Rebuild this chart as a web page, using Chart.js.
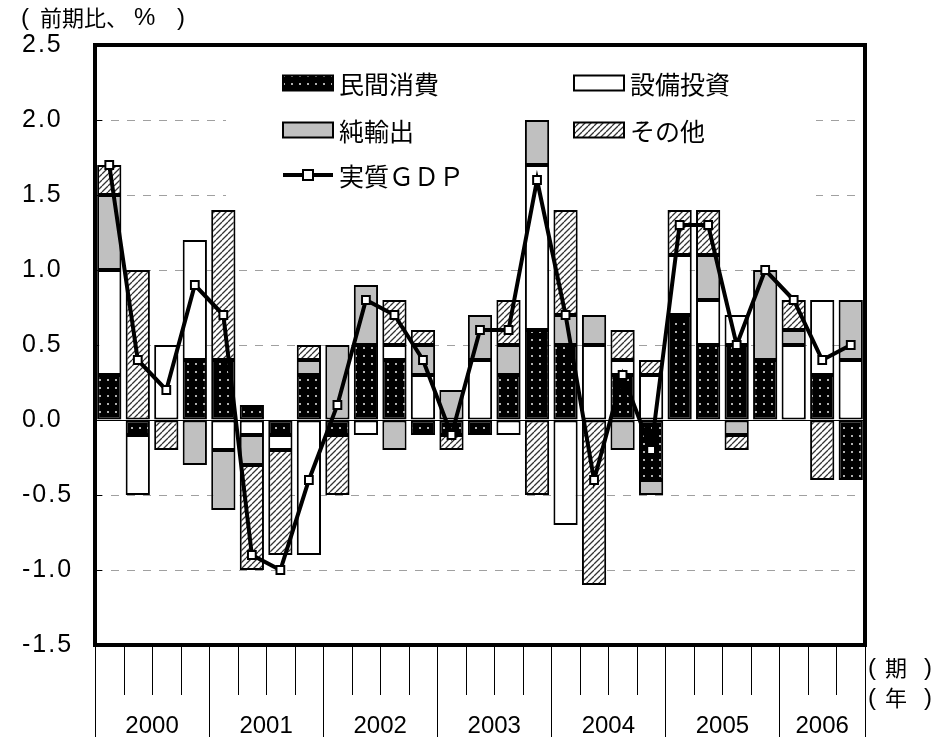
<!DOCTYPE html>
<html>
<head>
<meta charset="utf-8">
<script src="https://cdn.jsdelivr.net/npm/chart.js@4.4.1/dist/chart.umd.min.js"></script>
<style>
  body { margin: 0; background: #fff; }
  canvas { display: block; }
</style>
</head>
<body>
<canvas id="gdpChart" width="948" height="737"></canvas>
<script>
// 年と各年の四半期数
var years = ['2000', '2001', '2002', '2003', '2004', '2005', '2006']
var quartersPerYear = [4, 4, 4, 4, 4, 4, 3]

// 寄与度（前期比、%）
var consumption = [0.3, -0.1, 0, 0.4, 0.4, 0.1, -0.1, 0.3, -0.1, 0.5, 0.4, -0.1, -0.1, -0.1, 0.3, 0.6, 0.5, 0, 0.3, -0.4, 0.7, 0.5, 0.5, 0.4, 0, 0.3, -0.4]
var investment = [0.7, -0.4, 0.5, 0.8, -0.2, -0.1, -0.1, -0.9, 0, -0.1, 0.1, 0.3, 0, 0.4, -0.1, 1.1, -0.7, 0.5, 0.1, 0.3, 0.4, 0.3, 0.2, 0, 0.5, 0.5, 0.4]
var netExports = [0.5, 0, 0, -0.3, -0.4, -0.2, 0, 0.1, 0.5, 0.4, -0.2, 0.2, 0.2, 0.3, 0.2, 0.3, 0.2, 0.2, -0.2, -0.1, 0, 0.3, -0.1, 0.6, 0.1, 0, 0.4]
var others = [0.2, 1.0, -0.2, 0, 1.0, -0.7, -0.7, 0.1, -0.4, 0, 0.3, 0.1, -0.1, 0, 0.3, -0.5, 0.7, -1.1, 0.2, 0.1, 0.3, 0.3, -0.1, 0, 0.2, -0.4, 0]
var realGdp = [1.7, 0.4, 0.2, 0.9, 0.7, -0.9, -1.0, -0.4, 0.1, 0.8, 0.7, 0.4, -0.1, 0.6, 0.6, 1.6, 0.7, -0.4, 0.3, -0.2, 1.3, 1.3, 0.5, 1.0, 0.8, 0.4, 0.5]

// 縦軸
var yMin = -1.5
var yMax = 2.5
var yStep = 0.5

var quarters = []
years.forEach(function (y, i) {
    for (let q = 1; q <= quartersPerYear[i]; q++) quarters.push(y + 'Q' + q)
})

var latin = "'Liberation Sans', Arial, sans-serif"
var cjk = "'Noto Sans CJK JP', sans-serif"

// 塗りパターン
function dotPattern() {
    var c = document.createElement('canvas')
    c.width = 8; c.height = 8
    var g = c.getContext('2d')
    g.fillStyle = '#000'
    g.fillRect(0, 0, 8, 8)
    g.fillStyle = '#b0b0b0'
    g.fillRect(3, 3, 2, 2)
    return g.createPattern(c, 'repeat')
}

function hatchPattern() {
    var s = 6
    var c = document.createElement('canvas')
    c.width = s; c.height = s
    var g = c.getContext('2d')
    g.fillStyle = '#fff'
    g.fillRect(0, 0, s, s)
    g.strokeStyle = '#333'
    g.lineWidth = 1.3
    g.beginPath()
    for (let o = -s; o <= s; o += s) {
        g.moveTo(o, s)
        g.lineTo(o + s, 0)
    }
    g.stroke()
    return g.createPattern(c, 'repeat')
}

function nz(arr) {
    return arr.map(function (v) { return v === 0 ? null : v })
}

function barSet(label, data, fill) {
    return {
        label: label,
        data: nz(data),
        backgroundColor: fill,
        order: 1
    }
}

// 凡例・枠・横軸の描画
var decorations = {
    id: 'decorations',
    beforeDraw: function (chart) {
        chart.ctx.letterSpacing = '2px'
    },
    beforeDatasetsDraw: function (chart) {
        var ctx = chart.ctx
        var area = chart.chartArea
        var y = chart.scales.y
        ctx.letterSpacing = '0px'
        ctx.save()

        // ゼロ線と内向き目盛り
        var y0 = Math.round(y.getPixelForValue(0)) + 0.5
        ctx.strokeStyle = '#000'
        ctx.lineWidth = 1
        ctx.beginPath()
        ctx.moveTo(area.left, y0)
        ctx.lineTo(area.right, y0)
        ctx.stroke()
        y.ticks.forEach(function (t) {
            var py = Math.round(y.getPixelForValue(t.value)) + 0.5
            ctx.beginPath()
            ctx.moveTo(area.left, py)
            ctx.lineTo(area.left + 7, py)
            ctx.stroke()
        })

        // 凡例
        ctx.fillStyle = '#fff'
        ctx.fillRect(226, 47, 590, 158)
        var ds = chart.data.datasets
        var items = [
            [ds[1], 283, 83], [ds[2], 574, 83],
            [ds[3], 283, 130], [ds[4], 574, 130]
        ]
        ctx.font = '25px ' + cjk
        ctx.textBaseline = 'middle'
        ctx.textAlign = 'left'
        items.forEach(function (it) {
            ctx.fillStyle = it[0].backgroundColor
            ctx.fillRect(it[1], it[2] - 7.5, 50, 15)
            ctx.strokeStyle = '#000'
            ctx.lineWidth = 2
            ctx.strokeRect(it[1], it[2] - 7.5, 50, 15)
            ctx.fillStyle = '#000'
            ctx.fillText(it[0].label, it[1] + 56, it[2] + 1)
        })
        var ly = 175
        ctx.lineWidth = 4
        ctx.beginPath()
        ctx.moveTo(283, ly)
        ctx.lineTo(333, ly)
        ctx.stroke()
        ctx.fillStyle = '#fff'
        ctx.lineWidth = 2
        ctx.fillRect(303, ly - 5, 10, 10)
        ctx.strokeRect(303, ly - 5, 10, 10)
        ctx.fillStyle = '#000'
        ctx.fillText(ds[0].label, 339, ly + 1)
        ctx.restore()
    },
    afterDatasetsDraw: function (chart) {
        var ctx = chart.ctx
        var area = chart.chartArea
        var x = chart.scales.x
        ctx.save()

        // 外枠
        ctx.strokeStyle = '#000'
        ctx.lineWidth = 4
        ctx.strokeRect(area.left, area.top, area.right - area.left, area.bottom - area.top)

        // 横軸の期・年区切り
        var step = x.getPixelForValue(1) - x.getPixelForValue(0)
        var edge = function (i) { return x.getPixelForValue(i) - step / 2 }
        ctx.lineWidth = 1
        var k = 0
        var bounds = [0]
        quartersPerYear.forEach(function (n) { k += n; bounds.push(k) })
        for (let i = 0; i <= quarters.length; i++) {
            var px = Math.round(edge(i)) + 0.5
            var long = bounds.indexOf(i) >= 0
            ctx.beginPath()
            ctx.moveTo(px, area.bottom + 2)
            ctx.lineTo(px, long ? chart.height : area.bottom + 50)
            ctx.stroke()
        }
        ctx.fillStyle = '#000'
        ctx.font = '24px ' + latin
        ctx.textAlign = 'center'
        ctx.textBaseline = 'alphabetic'
        years.forEach(function (yr, i) {
            var cx = (edge(bounds[i]) + edge(bounds[i + 1])) / 2
            ctx.fillText(yr, cx, 733)
        })

        // 単位・軸名
        ctx.textAlign = 'left'
        ctx.textBaseline = 'middle'
        ctx.font = '24px ' + latin
        ctx.fillText('(', 21, 18)
        ctx.fillText('%', 134, 18)
        ctx.fillText(')', 177, 18)
        ctx.fillText('(', 868, 668)
        ctx.fillText(')', 924, 668)
        ctx.fillText('(', 868, 698)
        ctx.fillText(')', 924, 698)
        ctx.font = '22px ' + cjk
        ctx.fillText('前期比、', 40, 18)
        ctx.fillText('期', 885, 668)
        ctx.fillText('年', 885, 698)
        ctx.restore()
    }
}

var ctx = document.getElementById('gdpChart').getContext('2d')
var chart = new Chart(ctx, {
    type: 'bar',
    data: {
        labels: quarters,
        datasets: [
            {
                type: 'line',
                label: '実質ＧＤＰ',
                data: realGdp,
                stack: 'gdp',
                order: 0,
                borderColor: '#000',
                borderWidth: 4,
                tension: 0,
                pointStyle: 'rect',
                pointRadius: 5.5,
                pointBackgroundColor: '#fff',
                pointBorderColor: '#000',
                pointBorderWidth: 2
            },
            barSet('民間消費', consumption, dotPattern()),
            barSet('設備投資', investment, '#fff'),
            barSet('純輸出', netExports, '#c0c0c0'),
            barSet('その他', others, hatchPattern())
        ]
    },
    options: {
        responsive: false,
        animation: false,
        layout: { padding: { left: 22, right: 83, top: 45, bottom: 92 } },
        datasets: {
            bar: {
                barPercentage: 0.85,
                categoryPercentage: 1,
                borderColor: '#000',
                borderWidth: 2,
                borderSkipped: false
            }
        },
        plugins: {
            legend: { display: false },
            tooltip: { enabled: false }
        },
        scales: {
            x: { display: false, stacked: true },
            y: {
                stacked: true,
                min: yMin,
                max: yMax,
                afterFit: function (s) { s.width = 73 },
                ticks: {
                    stepSize: yStep,
                    color: '#000',
                    crossAlign: 'far',
                    font: { size: 25, family: latin },
                    callback: function (v) { return v.toFixed(1) }
                },
                grid: {
                    drawTicks: false,
                    lineWidth: 1,
                    color: function (c) {
                        var v = c.tick ? c.tick.value : null
                        return (v === 0 || v === yMin || v === yMax) ? 'rgba(0,0,0,0)' : '#a0a0a0'
                    }
                },
                border: { display: false, dash: [8, 8] }
            }
        }
    },
    plugins: [decorations]
})
</script>
</body>
</html>
